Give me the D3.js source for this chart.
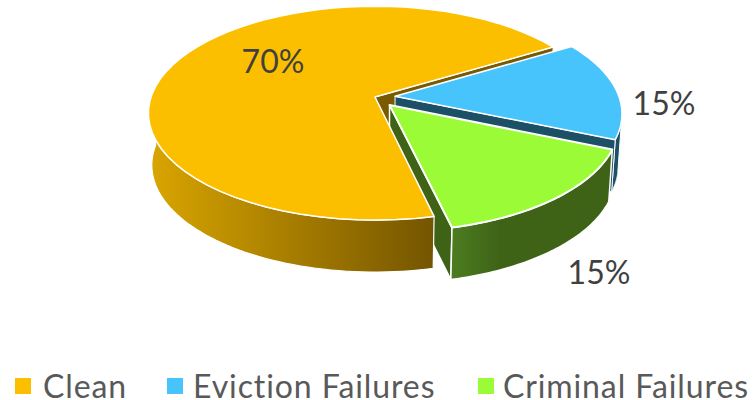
<!DOCTYPE html>
<html><head><meta charset="utf-8">
<style>html,body{margin:0;padding:0;background:#fff}svg{display:block}text{font-family:Lato,"Open Sans",sans-serif}</style>
<script src="https://cdnjs.cloudflare.com/ajax/libs/d3/7.8.5/d3.min.js"></script>
</head><body><svg id="c" width="754" height="400"></svg>
<script>
const categories = ["Clean", "Eviction Failures", "Criminal Failures"];
const values = [70, 15, 15];
const labels = ["70%", "15%", "15%"];

const topColors = ["#FCBF00", "#47C4FB", "#9BFB36"];
const innerColors = ["#7A5A00", "#1B5067", "#3E6317"];
const explode = [0, 0.09, 0.1];
const labelPos = [[273, 60], [664, 102], [599, 271]];
const legendSwatchX = [15, 167, 478], legendTextX = [43, 193, 503];

const svg = d3.select("#c");
const rad = d => d * Math.PI / 180;
// perspective view of the pie plane
const O = {x: 375, y: 97}, A = 224, B = 104.5, K = 0.151, DEPTH = 52, XS = 0.985;
const sx = d3.scaleLinear().domain([0, 1]).range([O.x, O.x + A]);
const sy = d3.scaleLinear().domain([0, 1]).range([O.y, O.y + B]);
function proj(u, v, low) {
  const w = 1 - K * v;
  const px = sx(u / w), py = sy(v / w);
  return low ? [O.x + (px - O.x) * XS, py + DEPTH] : [px, py];
}
const pie = d3.pie().sort(null).startAngle(rad(167)).endAngle(rad(167 + 360));
const arcs = pie(values);
const off = arcs.map((a, i) => {
  const m = (a.startAngle + a.endAngle) / 2;
  return [Math.sin(m) * explode[i], -Math.cos(m) * explode[i]];
});
const rim = (i, ang, low) => proj(off[i][0] + Math.sin(ang), off[i][1] - Math.cos(ang), low);
const apex = (i, low) => proj(off[i][0], off[i][1], low);
const steps = (a0, a1) => d3.range(0, 61).map(k => a0 + (a1 - a0) * k / 60);
const line = d3.line();

function topPath(i) {
  const a = arcs[i];
  return line([apex(i), ...steps(a.startAngle, a.endAngle).map(t => rim(i, t))]) + "Z";
}
function outerWall(i, a0, a1) {
  const s = steps(a0, a1);
  return line([...s.map(t => rim(i, t)), ...s.slice().reverse().map(t => rim(i, t, true))]) + "Z";
}
function cutWall(i, ang) {
  return line([apex(i), rim(i, ang), rim(i, ang, true), apex(i, true)]) + "Z";
}

const defs = svg.append("defs");
function grad(id, x1, x2, stops) {
  const g = defs.append("linearGradient").attr("id", id).attr("gradientUnits", "userSpaceOnUse")
    .attr("x1", x1).attr("x2", x2).attr("y1", 0).attr("y2", 0);
  stops.forEach(s => g.append("stop").attr("offset", s[0]).attr("stop-color", s[1]));
}
grad("gClean", 150, 434, [[0, "#D9A500"], [1, "#745500"]]);
grad("gCrim", 451, 500, [[0, "#4D7D20"], [1, "#3E6317"]]);

const draw = (d, fill, sw) => svg.append("path").attr("d", d).attr("fill", fill)
  .attr("stroke", "#fff").attr("stroke-width", sw === undefined ? 1.5 : sw).attr("stroke-linejoin", "round");

const [c, e, f] = arcs;
// far cut face of clean
draw(cutWall(0, c.endAngle), innerColors[0], 1);
// eviction walls (only the last stretch of the right wall shows past the criminal slice)
draw(outerWall(1, e.startAngle + rad(44), e.endAngle), innerColors[1], 1);
draw(cutWall(1, e.endAngle), innerColors[1], 1);
// criminal: left cut face, sits behind the clean slice
draw(cutWall(2, f.endAngle), innerColors[2]);
// clean: outer wall and top
draw(outerWall(0, c.startAngle, rad(272)), "url(#gClean)", 1.2);
draw(topPath(0), topColors[0]);
// eviction top
draw(topPath(1), topColors[1]);
// criminal: outer wall and top
draw(outerWall(2, f.startAngle, f.endAngle), "url(#gCrim)");
draw(topPath(2), topColors[2], 2);

svg.selectAll("text.lab").data(labels).join("text").attr("class", "lab")
  .attr("x", (d, i) => labelPos[i][0]).attr("y", (d, i) => labelPos[i][1])
  .attr("text-anchor", "middle").attr("dominant-baseline", "central")
  .attr("font-size", 32).attr("fill", "#404040").text(d => d);

const leg = svg.selectAll("g.leg").data(categories).join("g").attr("class", "leg");
leg.append("rect").attr("x", (d, i) => legendSwatchX[i]).attr("y", 378).attr("width", 16).attr("height", 16)
  .attr("fill", (d, i) => topColors[i]);
leg.append("text").attr("x", (d, i) => legendTextX[i]).attr("y", 398)
  .attr("font-size", 32).attr("letter-spacing", 0.9).attr("fill", "#595959").text(d => d);
</script></body></html>
